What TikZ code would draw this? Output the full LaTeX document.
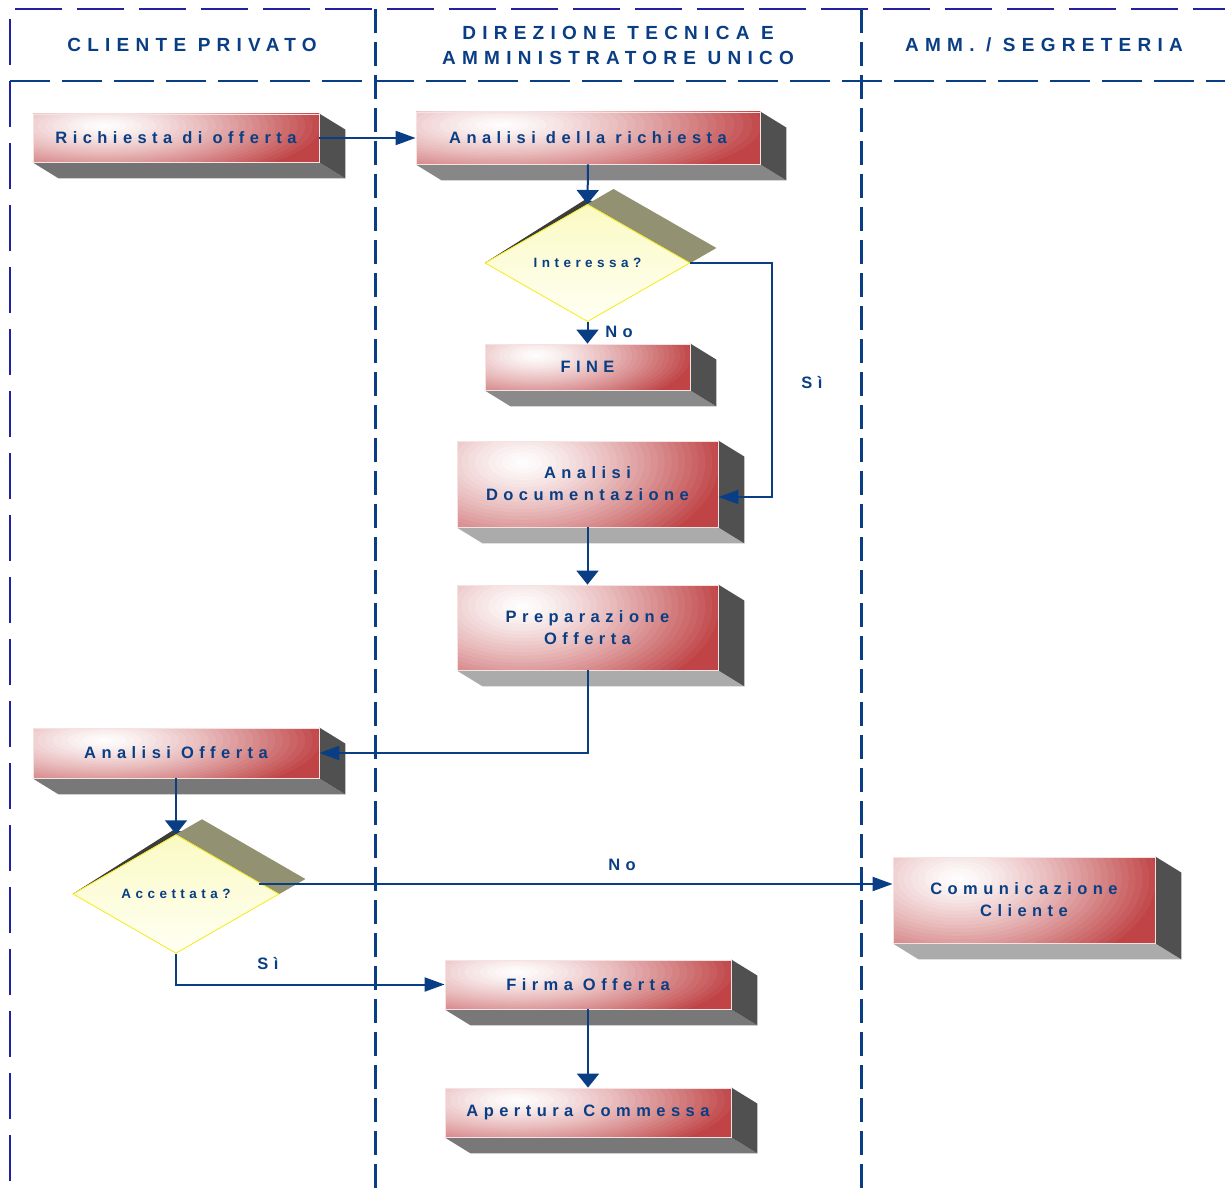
\documentclass[tikz,border=0pt]{standalone}
\usepackage{fontspec}
\newfontfamily\lsfont[LetterSpace=33]{Liberation Sans}
\usetikzlibrary{arrows.meta,calc,shapes.geometric}

% palette
\definecolor{navy}{RGB}{10,62,132}
\definecolor{lanethin}{RGB}{34,34,160}
\definecolor{rd2}{RGB}{192,68,70}
\definecolor{boxedge}{RGB}{246,226,226}
\definecolor{sidegrey}{RGB}{80,80,80}
\definecolor{olive}{RGB}{146,146,114}
\definecolor{diadark}{RGB}{60,60,60}
\definecolor{diayel}{RGB}{245,235,20}
\definecolor{dtop}{RGB}{250,250,196}
\definecolor{dbot}{RGB}{255,255,244}

\pgfdeclarelayer{back}
\pgfsetlayers{back,main}

\tikzset{
  hdr/.style={text=navy, align=center, font=\lsfont\bfseries\fontsize{19}{25}\selectfont},
  % front face: banded glow, white near the upper left, red towards the right
  procbox/.style={rectangle, inner sep=0pt, align=center, text=navy,
    font=\lsfont\bfseries\fontsize{16.5}{22}\selectfont,
    draw=boxedge, line width=0.8pt,
    path picture={
      \pgfpointdiff{\pgfpointanchor{path picture bounding box}{south west}}{\pgfpointanchor{path picture bounding box}{north east}}
      \pgfgetlastxy{\bw}{\bh}
      \coordinate (glow) at ($(path picture bounding box.north west)!0.25!(path picture bounding box.south east)$);
      \fill[rd2] (path picture bounding box.south west) rectangle (path picture bounding box.north east);
      \foreach \i in {0,...,29} {
        \pgfmathsetmacro\rr{1-\i/30}
        \pgfmathsetmacro\pp{100*(1-\rr^1.3)}
        \fill[white!\pp!rd2] (glow) ellipse [x radius={\rr*0.78*\bw}, y radius={\rr*1.25*\bh}];
      }
    }},
  decision/.style={diamond, draw=diayel, line width=0.8pt, top color=dtop, bottom color=dbot,
    inner sep=0pt, text=navy, font=\lsfont\bfseries\fontsize{13.5}{15}\selectfont},
  lbl/.style={text=navy, font=\lsfont\bfseries\fontsize{16.5}{18}\selectfont},
  flow/.style={draw=navy, line width=2pt},
  harr/.style={flow, -{Triangle[length=20pt,width=14pt]}},
  varr/.style={flow, -{Triangle[length=14pt,width=22pt]}},
  lthin/.style={draw=lanethin, line width=1.1pt},
  lthick/.style={draw=navy, line width=2.5pt, dash pattern=on 40pt off 12pt},
  lvert/.style={draw=navy, line width=3pt, dash pattern=on 24pt off 9pt},
}

\begin{document}
\begin{tikzpicture}[x=1pt, y=-1pt]
\useasboundingbox (0,0) rectangle (1225,1190);

% swimlane frame
\begin{pgfonlayer}{back}
  \draw[lthin, dash pattern=on 47pt off 15pt] (15,9) -- (1225,9);
  \draw[lthin, dash pattern=on 46pt off 16pt] (10,19) -- (10,1190);
  \draw[lthick] (10,81) -- (1225,81);
  \draw[lvert] (375,9) -- (375,1190);
  \draw[lvert] (861,9) -- (861,1190);
\end{pgfonlayer}

% lane headings
\node[hdr] (h1) at (192,45) {CLIENTE PRIVATO};
\node[hdr] (h2) at (618,45.5) {DIREZIONE TECNICA E\\AMMINISTRATORE UNICO};
\node[hdr] (h3) at (1044,45) {AMM. / SEGRETERIA};

% process steps
\node[procbox, minimum width=286pt, minimum height=48pt] (ric)   at (176,138)    {Richiesta di offerta};
\node[procbox, minimum width=344pt, minimum height=52pt] (anr)   at (588,138)    {Analisi della richiesta};
\node[procbox, minimum width=205pt, minimum height=46pt] (fine)  at (587.5,367)  {FINE};
\node[procbox, minimum width=261pt, minimum height=86pt] (doc)   at (587.5,484)  {Analisi\\Documentazione};
\node[procbox, minimum width=261pt, minimum height=85pt] (prep)  at (587.5,627.5) {Preparazione\\Offerta};
\node[procbox, minimum width=286pt, minimum height=50pt] (anoff) at (176,753)    {Analisi Offerta};
\node[procbox, minimum width=262pt, minimum height=86pt] (comm)  at (1024,900)   {Comunicazione\\Cliente};
\node[procbox, minimum width=286pt, minimum height=49pt] (firma) at (588,984.5)  {Firma Offerta};
\node[procbox, minimum width=286pt, minimum height=49pt] (apert) at (588,1112.5) {Apertura Commessa};

% decisions
\node[decision, minimum width=205pt, minimum height=99pt] (int) at (587.5,263) {Interessa?};
\node[decision, minimum width=206pt, minimum height=98pt] (acc) at (176,894)   {Accettata?};

% extruded faces behind the steps and decisions
\begin{pgfonlayer}{back}
  \foreach \n/\g in {ric/55, anr/47, fine/46, doc/33, prep/33, anoff/53, comm/33, firma/53, apert/53} {
    \fill[black!\g] (\n.south west) -- (\n.south east) -- ++(26,16) -- ($(\n.south west)+(26,16)$) -- cycle;
    \fill[sidegrey] (\n.north east) -- ++(26,16) -- ($(\n.south east)+(26,16)$) -- (\n.south east) -- cycle;
  }
  \foreach \n in {int, acc} {
    \fill[olive] (\n.north) -- ++(26,-15) -- ($(\n.east)+(26,-15)$) -- (\n.east) -- cycle;
    \fill[diadark] (\n.west) -- ($(\n.north)+(-3,-4)$) -- ($(\n.north)+(5,-3)$) -- (\n.north) -- cycle;
  }
\end{pgfonlayer}

% connector endpoints away from node centres
\coordinate (docin) at ($(doc.east)+(0,13)$);
\coordinate (commin) at ($(comm.west)+(0,-16)$);
\coordinate (accedge) at ($(acc.north)!0.8!(acc.east)$);

% flow
\draw[harr] (ric.east) -- (anr.west);
\draw[varr] (anr.south) -- (int.north);
\draw[varr] (int.south) -- (fine.north);
\draw[harr] (int.east) -- ++(82,0) |- (docin);
\draw[varr] (doc.south) -- (prep.north);
\draw[harr] (prep.south) |- (anoff.east);
\draw[varr] (anoff.south) -- (acc.north);
\draw[harr] (accedge |- commin) -- (commin);
\draw[harr] (acc.south) |- (firma.west);
\draw[varr] (firma.south) -- (apert.north);

% branch labels
\node[lbl] (lno1) at (619,332) {No};
\node[lbl] (lsi1) at (812,383) {Sì};
\node[lbl] (lno2) at (622,865) {No};
\node[lbl] (lsi2) at (268,964) {Sì};
\end{tikzpicture}
\end{document}
